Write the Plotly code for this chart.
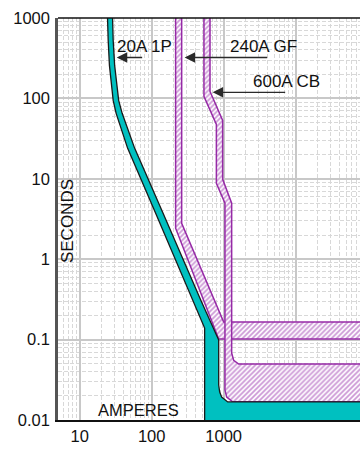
import math
import plotly.graph_objects as go

# 20A 1P breaker: minimum (left) and maximum (right) edges, amperes / seconds
cb20_min_amps = [23.8, 24.1, 24.9, 25.9, 27.4, 29.2, 32.1, 37.1, 46.4, 112, 215, 371, 544, 544]
cb20_min_secs = [2000, 1000, 525, 257, 145, 94.4, 65.2, 43.6, 23.9, 3.84, 0.973, 0.31, 0.139, 0.001]
cb20_max_amps = [28.0, 28.3, 29.2, 30.6, 32.7, 34.8, 38.9, 45.7, 58.1, 142, 278, 480, 853, 853,
                 880, 937, 1137, 300000]
cb20_max_secs = [2000, 1000, 525, 257, 145, 94.4, 65.2, 43.6, 23.9, 3.84, 0.973, 0.31, 0.0986,
                 0.0272, 0.0223, 0.0193, 0.0168, 0.0168]

# 240A ground-fault relay band
gf_min_amps = [215, 215, 853, 300000]
gf_min_secs = [2000, 2.43, 0.1014, 0.1014]
gf_max_amps = [261, 261, 1000, 300000]
gf_max_secs = [2000, 2.80, 0.165, 0.165]

# 600A breaker band
cb600_min_amps = [532, 532, 792, 792, 1042, 1042, 1101, 1334, 300000]
cb600_min_secs = [2000, 106, 47.5, 8.79, 4.97, 0.0236, 0.0193, 0.01687, 0.01687]
cb600_max_amps = [646, 646, 968, 968, 1291, 1291, 1377, 1616, 300000]
cb600_max_secs = [2000, 122, 53.3, 9.86, 4.97, 0.068, 0.0551, 0.0497, 0.0497]

x_tick_vals = [10, 100, 1000, 10000]
x_tick_text = ["10", "100", "1000", ""]
y_tick_vals = [0.01, 0.1, 1, 10, 100, 1000]
y_tick_text = ["0.01", "0.1", "1", "10", "100", "1000"]

FONT = "Arial, Liberation Sans, sans-serif"
PURPLE = "#962aa6"
HATCH = "#9a32ae"
TEAL = "#00c0c0"


def band(min_x, min_y, max_x, max_y, bottom_y=None):
    """Closed polygon: down the minimum edge, back up the maximum edge."""
    xs = list(min_x)
    ys = list(min_y)
    if bottom_y is not None:
        xs.append(max_x[-1])
        ys.append(bottom_y)
    xs += list(reversed(max_x))
    ys += list(reversed(max_y))
    xs.append(min_x[0])
    ys.append(min_y[0])
    return xs, ys


hatch = dict(shape="/", fgcolor=HATCH, bgcolor="white", size=3.5, solidity=0.5)

fig = go.Figure()

gx, gy = band(gf_min_amps, gf_min_secs, gf_max_amps, gf_max_secs)
fig.add_trace(go.Scatter(
    x=gx, y=gy, mode="lines", fill="toself",
    line=dict(color=PURPLE, width=1.5),
    fillcolor="white", fillpattern=hatch,
    hoverinfo="skip", showlegend=False,
))

cx, cy = band(cb600_min_amps, cb600_min_secs, cb600_max_amps, cb600_max_secs)
fig.add_trace(go.Scatter(
    x=cx, y=cy, mode="lines", fill="toself",
    line=dict(color=PURPLE, width=1.5),
    fillcolor="white", fillpattern=hatch,
    hoverinfo="skip", showlegend=False,
))

tx, ty = band(cb20_min_amps, cb20_min_secs, cb20_max_amps, cb20_max_secs, bottom_y=0.001)
fig.add_trace(go.Scatter(
    x=tx, y=ty, mode="lines", fill="toself",
    line=dict(color="#1a1a1a", width=1.3),
    fillcolor=TEAL,
    hoverinfo="skip", showlegend=False,
))

annotations = []

# device labels with leader arrows
labels = [
    ("20A 1P", 0.190, 0.928, 32.7, 77.4, 323),
    ("240A GF", 0.563, 0.930, 287, 4217, 323),
    ("600A CB", 0.638, 0.843, 703, 7499, 119),
]
for text, px, py, tip, tail, secs in labels:
    annotations.append(dict(
        text=text, xref="paper", yref="paper", x=px, y=py,
        xanchor="left", yanchor="middle", showarrow=False,
        font=dict(family=FONT, size=17, color="#111111"),
    ))
    annotations.append(dict(
        text="", xref="x", yref="y", axref="x", ayref="y",
        x=math.log10(tip), y=math.log10(secs),
        ax=math.log10(tail), ay=math.log10(secs),
        showarrow=True, arrowhead=2, arrowsize=1.5, arrowwidth=1.4,
        arrowcolor="#2a2a2a", standoff=0, startstandoff=0,
    ))

# axis titles sit inside the plot area
annotations.append(dict(
    text="SECONDS", xref="paper", yref="paper", x=0.03, y=0.495,
    xanchor="center", yanchor="middle", textangle=-90, showarrow=False,
    font=dict(family=FONT, size=17, color="#111111"),
))
annotations.append(dict(
    text="AMPERES", xref="paper", yref="paper", x=0.265, y=0.024,
    xanchor="center", yanchor="middle", showarrow=False,
    font=dict(family=FONT, size=16.5, color="#111111"),
))

x_lo = math.log10(5)
x_hi = x_lo + 302 / 72

minor_grid = dict(dtick="D1", showgrid=True, gridcolor="#d8d8d8",
                  griddash="4px,2px", gridwidth=1, ticks="")

fig.update_layout(
    width=360, height=450,
    margin=dict(l=58, r=0, t=18, b=30),
    paper_bgcolor="white", plot_bgcolor="white",
    font=dict(family=FONT, size=16, color="#111111"),
    annotations=annotations,
    xaxis=dict(
        type="log", range=[x_lo, x_hi],
        tickvals=x_tick_vals, ticktext=x_tick_text,
        ticks="", showline=True, linecolor="#111111", linewidth=2,
        showgrid=True, gridcolor="#c8c8c8", gridwidth=1.5,
        minor=minor_grid,
        zeroline=False, tickfont=dict(size=16.5),
    ),
    yaxis=dict(
        type="log", range=[-2, 3],
        tickvals=y_tick_vals, ticktext=y_tick_text,
        ticks="", ticklabelstandoff=2,
        showline=True, linecolor="#555555", linewidth=2.5,
        showgrid=True, gridcolor="#c8c8c8", gridwidth=1.5,
        minor=minor_grid,
        zeroline=False, tickfont=dict(size=16.5),
    ),
    shapes=[dict(type="line", xref="paper", yref="paper", x0=0, x1=1, y0=1, y1=1,
                 line=dict(color="#111111", width=1.5))],
)

fig.write_html("out.html")
